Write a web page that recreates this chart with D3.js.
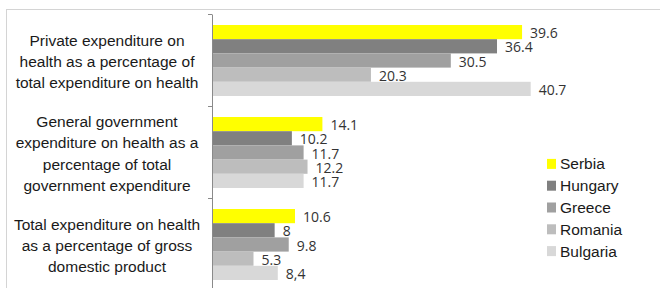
<!DOCTYPE html>
<html>
<head>
<meta charset="utf-8">
<script src="https://cdn.jsdelivr.net/npm/d3@7"></script>
<style>
  html, body { margin: 0; padding: 0; background: #fff; }
  svg { display: block; }
  .cat { font-family: "Liberation Sans", Arial, sans-serif; font-size: 15.5px; fill: #1a1a1a; }
  .val { font-family: "Open Sans", sans-serif; font-size: 14px; fill: #333; }
  .leg { font-family: "Liberation Sans", Arial, sans-serif; font-size: 15.5px; fill: #1a1a1a; }
</style>
</head>
<body>
<div id="chart"></div>
<script>
// categories (tick labels, already split into lines as in the picture)
const categories = ['private', 'government', 'gdp'];
const categoryLines = [
  ['Private expenditure on', 'health as a percentage of', 'total expenditure on health'],
  ['General government', 'expenditure on health as a', 'percentage of total', 'government expenditure'],
  ['Total expenditure on health', 'as a percentage of gross', 'domestic product']
];

const countries = ['Serbia', 'Hungary', 'Greece', 'Romania', 'Bulgaria'];

// one array per country, in category order
const serbia   = [39.6, 14.1, 10.6];
const hungary  = [36.4, 10.2, 8];
const greece   = [30.5, 11.7, 9.8];
const romania  = [20.3, 12.2, 5.3];
const bulgaria = [40.7, 11.7, 8.4];

// value labels as printed (Bulgaria's last one uses a comma in the original)
const serbiaLabels   = ['39.6', '14.1', '10.6'];
const hungaryLabels  = ['36.4', '10.2', '8'];
const greeceLabels   = ['30.5', '11.7', '9.8'];
const romaniaLabels  = ['20.3', '12.2', '5.3'];
const bulgariaLabels = ['40.7', '11.7', '8,4'];

const values = [serbia, hungary, greece, romania, bulgaria];
const labels = [serbiaLabels, hungaryLabels, greeceLabels, romaniaLabels, bulgariaLabels];
const colors = ['#ffff00', '#808080', '#a0a0a0', '#bdbdbd', '#d8d8d8'];

const width = 660, height = 288;
const axisX = 212;

const svg = d3.select('#chart').append('svg')
    .attr('width', width)
    .attr('height', height);

// outer frame (top + left edges visible)
svg.append('line').attr('x1', 6).attr('x2', width).attr('y1', 9.5).attr('y2', 9.5)
    .attr('stroke', '#d4d4d4');
svg.append('line').attr('x1', 6.5).attr('x2', 6.5).attr('y1', 9).attr('y2', height)
    .attr('stroke', '#d4d4d4');

const x = d3.scaleLinear().domain([0, 50]).range([axisX, axisX + 391.5]);

const y = d3.scaleBand().domain(categories).range([14, 290]).paddingInner(0).paddingOuter(0);

// bars of one category sit in the middle ~71px of the 92px band
const ySub = d3.scaleBand().domain(countries).range([11, 82]).padding(0);

// rows: one entry per (category, country)
const rows = [];
categories.forEach((c, ci) => {
  countries.forEach((s, si) => {
    rows.push({cat: c, country: s, value: values[si][ci], label: labels[si][ci], color: colors[si]});
  });
});

const g = svg.append('g');

g.selectAll('.bar').data(rows).enter().append('rect')
    .attr('class', 'bar')
    .attr('x', x(0))
    .attr('y', d => y(d.cat) + ySub(d.country))
    .attr('width', d => x(d.value) - x(0))
    .attr('height', ySub.bandwidth())
    .attr('fill', d => d.color);

g.selectAll('.val').data(rows).enter().append('text')
    .attr('class', 'val')
    .attr('x', d => x(d.value) + 8)
    .attr('y', d => y(d.cat) + ySub(d.country) + ySub.bandwidth() / 2 + 6)
    .text(d => d.label);

// y axis with short left ticks
const yAxis = d3.axisLeft(y).tickSize(4).tickSizeOuter(0).tickFormat('');
const axisG = svg.append('g')
    .attr('transform', `translate(${axisX},0)`)
    .call(yAxis);
axisG.select('.domain').attr('stroke', '#8a8a8a');
axisG.selectAll('.tick').remove();
// ticks at band boundaries
axisG.selectAll('.bnd').data(categories).enter().append('line')
    .attr('class', 'bnd')
    .attr('x1', -4).attr('x2', 0)
    .attr('y1', d => Math.round(y(d)) + 0.5)
    .attr('y2', d => Math.round(y(d)) + 0.5)
    .attr('stroke', '#8a8a8a');

// category labels, centred in the band
const lineH = 21.4;
const catG = svg.selectAll('.catg').data(categories).enter().append('text')
    .attr('class', 'cat')
    .attr('text-anchor', 'middle');
catG.each(function(c, ci) {
  const lines = categoryLines[ci];
  const mid = y(c) + y.bandwidth() / 2 + 1.5;
  const top = mid - (lines.length - 1) * lineH / 2 + 5.5;
  d3.select(this).selectAll('tspan').data(lines).enter().append('tspan')
      .attr('x', 107)
      .attr('y', (d, i) => top + i * lineH)
      .text(d => d);
});

// legend
const legY = d3.scaleBand().domain(countries).range([153, 262]);
const leg = svg.append('g');
leg.selectAll('rect').data(countries).enter().append('rect')
    .attr('x', 547)
    .attr('y', d => legY(d) + legY.bandwidth() / 2 - 5)
    .attr('width', 9)
    .attr('height', 10)
    .attr('fill', (d, i) => colors[i]);
leg.selectAll('text').data(countries).enter().append('text')
    .attr('class', 'leg')
    .attr('x', 560)
    .attr('y', d => legY(d) + legY.bandwidth() / 2 + 5.5)
    .text(d => d);
</script>
</body>
</html>
